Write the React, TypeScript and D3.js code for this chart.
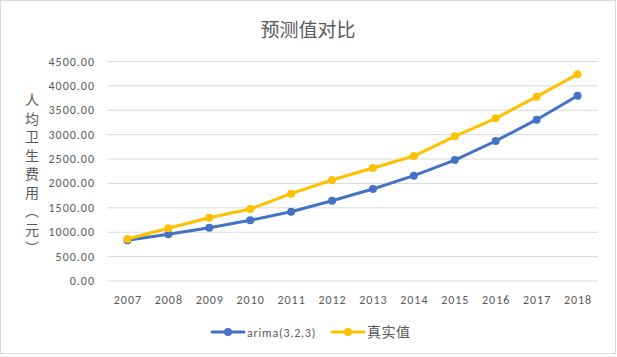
import React from "react";
import * as d3 from "d3";

const years = ["2007","2008","2009","2010","2011","2012","2013","2014","2015","2016","2017","2018"];
const arimaValues = [834, 957, 1093, 1244, 1421, 1646, 1886, 2159, 2480, 2870, 3307, 3799];
const actualValues = [861, 1080, 1298, 1476, 1790, 2070, 2316, 2562, 2966, 3335, 3779, 4237];
const yTicks = [0, 500, 1000, 1500, 2000, 2500, 3000, 3500, 4000, 4500];
const seriesNames = ["arima(3,2,3)", "真实值"];
const seriesColors = ["#4472C4", "#FFC000"];
const yTitle = "人均卫生费用︵元︶";
const title = "预测值对比";

const W = 617, H = 357;
const left = 107, right = 598, top = 61.5, bottom = 281;
const textColor = "#595959";
const latin = "Calibri, Carlito, 'Liberation Sans', Arial, sans-serif";
const cjk = "'Noto Sans CJK SC', sans-serif";

export default function App() {
  const x = d3.scaleBand<string>().domain(years).range([left, right]);
  const y = d3.scaleLinear().domain([0, 4500]).range([bottom, top]);
  const line = d3.line<number>()
    .x((_, i) => (x(years[i]) as number) + x.bandwidth() / 2)
    .y((d) => y(d));
  const series = [arimaValues, actualValues];

  return (
    <svg width={W} height={H} style={{ position: "absolute", left: 0, top: 0, background: "#fff" }}>
      <rect x={0.5} y={0.5} width={W - 2} height={H - 4} fill="#fff" stroke="#d9d9d9" />
      <text x={308} y={37} textAnchor="middle" fontFamily={cjk} fontSize={19} fill={textColor}>{title}</text>
      {yTicks.map((t) => (
        <g key={t}>
          <line x1={left} x2={right} y1={y(t)} y2={y(t)} stroke="#d9d9d9" strokeWidth={1} />
          <text x={95} y={y(t) + 4} textAnchor="end" fontFamily={latin} fontSize={12} letterSpacing={1} fill={textColor}>{t.toFixed(2)}</text>
        </g>
      ))}
      {years.map((yr) => (
        <text key={yr} x={(x(yr) as number) + x.bandwidth() / 2 + 0.5} y={304} textAnchor="middle" fontFamily={latin} fontSize={12} letterSpacing={1} fill={textColor}>{yr}</text>
      ))}
      <text x={32} y={93} fontFamily={cjk} fontSize={14} letterSpacing={4.5} fill={textColor}
        style={{ writingMode: "vertical-rl", textOrientation: "upright" } as any}>{yTitle}</text>
      {series.map((vals, si) => (
        <g key={si}>
          <path d={line(vals) as string} fill="none" stroke={seriesColors[si]} strokeWidth={3} strokeLinejoin="round" strokeLinecap="round" />
          {vals.map((v, i) => (
            <circle key={i} cx={(x(years[i]) as number) + x.bandwidth() / 2} cy={y(v)} r={4} fill={seriesColors[si]} />
          ))}
        </g>
      ))}
      {seriesNames.map((n, i) => {
        const lx = i === 0 ? 212 : 332;
        return (
          <g key={n}>
            <line x1={lx} x2={lx + 32} y1={332} y2={332} stroke={seriesColors[i]} strokeWidth={3} strokeLinecap="round" />
            <circle cx={lx + 16} cy={332} r={4} fill={seriesColors[i]} />
            <text x={lx + 35} y={336.5} fontFamily={i === 0 ? latin : cjk} fontSize={i === 0 ? 12 : 14} letterSpacing={i === 0 ? 0.8 : 0.5} fill={textColor}>{n}</text>
          </g>
        );
      })}
    </svg>
  );
}
